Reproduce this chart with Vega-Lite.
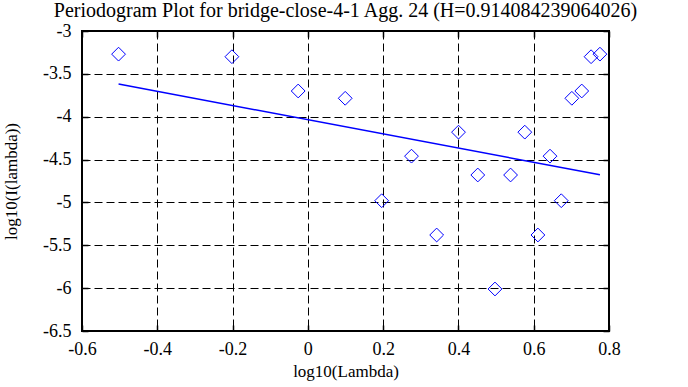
{
  "$schema": "https://vega.github.io/schema/vega-lite/v6.json",
  "autosize": "none",
  "width": 527,
  "height": 300,
  "padding": {"left": 82, "top": 31, "right": 79, "bottom": 56},
  "background": "white",
  "title": {
    "text": "Periodogram Plot for bridge-close-4-1 Agg. 24 (H=0.914084239064026)",
    "font": "Liberation Serif",
    "fontSize": 20,
    "fontWeight": "normal",
    "color": "black",
    "offset": 1
  },
  "config": {
    "font": "Liberation Serif",
    "style": {"guide-label": {"font": "Liberation Serif", "fontSize": 18}, "guide-title": {"font": "Liberation Serif"}},
    "view": {"stroke": "black", "strokeWidth": 2},
    "axis": {
      "labelFont": "Liberation Serif",
      "titleFont": "Liberation Serif",
      "labelFontSize": 18,
      "titleFontSize": 17,
      "titleFontWeight": "normal",
      "labelColor": "black",
      "titleColor": "black",
      "domain": false,
      "gridColor": "black",
      "gridDash": [8, 4],
      "gridOpacity": 1,
      "gridWidth": 1,
      "tickColor": "black",
      "tickSize": -6,
      "tickWidth": 1.5
    }
  },
  "resolve": {"axis": {"x": "independent", "y": "independent"}},
  "datasets": {
    "pts": [
      {"x": -0.5029, "y": -3.27},
      {"x": -0.2018, "y": -3.30},
      {"x": -0.0257, "y": -3.70},
      {"x": 0.0992, "y": -3.785},
      {"x": 0.1961, "y": -4.98},
      {"x": 0.2753, "y": -4.46},
      {"x": 0.3422, "y": -5.38},
      {"x": 0.4002, "y": -4.18},
      {"x": 0.4514, "y": -4.68},
      {"x": 0.4971, "y": -6.01},
      {"x": 0.5385, "y": -4.68},
      {"x": 0.5763, "y": -4.18},
      {"x": 0.6111, "y": -5.38},
      {"x": 0.6433, "y": -4.46},
      {"x": 0.6732, "y": -4.98},
      {"x": 0.7013, "y": -3.785},
      {"x": 0.7276, "y": -3.70},
      {"x": 0.7524, "y": -3.30},
      {"x": 0.7759, "y": -3.27}
    ],
    "fit": [
      {"x": -0.5029, "y": -3.618},
      {"x": 0.7759, "y": -4.677}
    ]
  },
  "layer": [
    {
      "data": {"name": "pts"},
      "mark": {"type": "point", "shape": "diamond", "size": 190, "filled": false, "stroke": "#0000ff", "strokeWidth": 1, "opacity": 1},
      "encoding": {
        "x": {"field": "x", "type": "quantitative", "scale": {"domain": [-0.6, 0.8], "nice": false, "zero": false},
          "axis": {"title": "log10(Lambda)", "grid": true, "values": [-0.6, -0.4, -0.2, 0, 0.2, 0.4, 0.6, 0.8], "format": "~g", "labelExpr": "replace(datum.label, '\u2212', '-')", "labelFont": "Liberation Serif", "labelFontSize": 18, "labelPadding": 15, "titlePadding": 5, "labelFlush": false, "labelOverlap": false}},
        "y": {"field": "y", "type": "quantitative", "scale": {"domain": [-6.5, -3], "nice": false, "zero": false},
          "axis": {"title": "log10(I(lambda))", "grid": true, "values": [-6.5, -6, -5.5, -5, -4.5, -4, -3.5, -3], "format": "~g", "labelExpr": "replace(datum.label, '\u2212', '-')", "labelFont": "Liberation Serif", "labelFontSize": 18, "labelPadding": 17, "titlePadding": 22, "labelFlush": false, "labelOverlap": false}}
      }
    },
    {
      "data": {"name": "fit"},
      "mark": {"type": "line", "color": "#0000ff", "strokeWidth": 1.5},
      "encoding": {
        "x": {"field": "x", "type": "quantitative", "axis": {"orient": "top", "labels": false, "title": null, "grid": false, "values": [-0.6, -0.4, -0.2, 0, 0.2, 0.4, 0.6, 0.8]}},
        "y": {"field": "y", "type": "quantitative", "axis": {"orient": "right", "labels": false, "title": null, "grid": false, "values": [-6.5, -6, -5.5, -5, -4.5, -4, -3.5, -3]}}
      }
    }
  ]
}
